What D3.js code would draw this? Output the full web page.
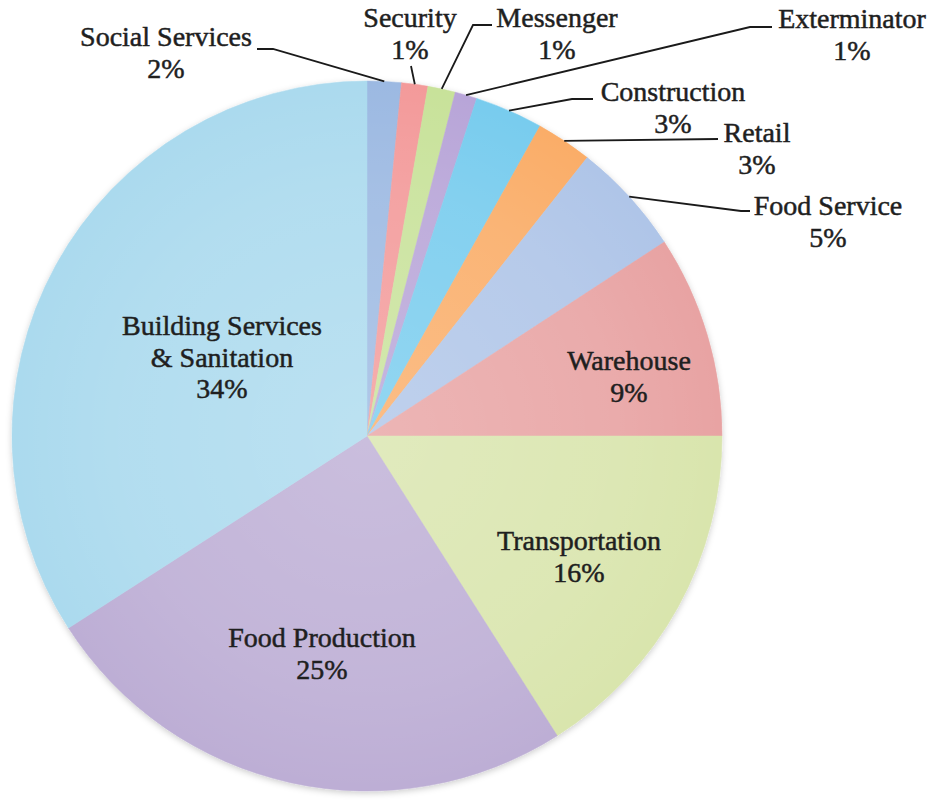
<!DOCTYPE html>
<html><head><meta charset="utf-8">
<script src="https://cdn.jsdelivr.net/npm/d3@7"></script>
<style>body{margin:0;background:#fff} svg{display:block}</style>
</head><body>
<svg id="chart" width="932" height="800"></svg>
<script>
// ---- data ----
const categories = ["Social Services","Security","Messenger","Exterminator","Construction","Retail","Food Service","Warehouse","Transportation","Food Production","Building Services & Sanitation"];
const values = [1.55, 1.2, 1.25, 1.0, 3.1, 2.55, 5.15, 9.2, 16.0, 24.9, 34.1];
const colors = ["#9cb9e2","#f39a9a","#c8e29a","#b8a5d8","#78ccee","#faad68","#afc5e8","#e8a3a3","#d9e5ad","#bdaed5","#abdaee"];
const labelNames = [["Social Services"],["Security"],["Messenger"],["Exterminator"],["Construction"],["Retail"],["Food Service"],["Warehouse"],["Transportation"],["Food Production"],["Building Services","& Sanitation"]];

// ---- layout (label anchors: center x, first baseline y, optional leader elbow/end) ----
const layout = [
  {x:166, y:46, elbow:[273,49], end:[257,49]},
  {x:410, y:27, end:[411,66]},
  {x:557, y:27, elbow:[473,25], end:[492,25]},
  {x:852, y:28, elbow:[750,27], end:[772,27]},
  {x:673, y:101, elbow:[572,99], end:[593,99]},
  {x:757, y:142, end:[718,139]},
  {x:828, y:215, elbow:[741,211], end:[750,211]},
  {x:629, y:370},
  {x:579, y:550},
  {x:322, y:647},
  {x:222, y:335}
];

const W = 932, H = 800;
const cx = 367, cy = 436, R = 355;
const lineH = 31.5;

const svg = d3.select("#chart");
const defs = svg.append("defs");
const f = defs.append("filter").attr("id","shadow").attr("x","-10%").attr("y","-10%").attr("width","120%").attr("height","120%");
f.append("feDropShadow").attr("dx",0).attr("dy",2).attr("stdDeviation",3).attr("flood-color","#000").attr("flood-opacity",0.2);
const rg = defs.append("radialGradient").attr("id","shine").attr("cx","50%").attr("cy","50%").attr("r","50%");
rg.append("stop").attr("offset","0%").attr("stop-color","#fff").attr("stop-opacity",0.2);
rg.append("stop").attr("offset","70%").attr("stop-color","#fff").attr("stop-opacity",0.09);
rg.append("stop").attr("offset","100%").attr("stop-color","#fff").attr("stop-opacity",0);

const data = categories.map((c,i)=>({name:c, value:values[i], color:colors[i], lines:labelNames[i], lay:layout[i]}));
const total = d3.sum(values);

const pie = d3.pie().sort(null).value(d=>d.value).startAngle(0).endAngle(2*Math.PI);
const arc = d3.arc().innerRadius(0).outerRadius(R);

const g = svg.append("g").attr("transform",`translate(${cx},${cy})`);
const slices = g.append("g").attr("filter","url(#shadow)");
const arcs = pie(data);
slices.selectAll("path").data(arcs).join("path")
  .attr("d", arc)
  .attr("fill", d=>d.data.color)
  .attr("stroke", d=>d.data.color)
  .attr("stroke-width", 0.5);
g.append("circle").attr("r",R).attr("fill","url(#shine)");

// leader lines
const lg = svg.append("g");
arcs.forEach(a=>{
  const L = a.data.lay;
  if(!L.end) return;
  const mid = (a.startAngle + a.endAngle)/2;
  const p0 = [cx + R*Math.sin(mid), cy - R*Math.cos(mid)];
  const pts = [p0];
  if(L.elbow) pts.push(L.elbow);
  pts.push(L.end);
  lg.append("path").attr("d", d3.line()(pts))
    .attr("fill","none").attr("stroke","#1a1a1a").attr("stroke-width",1.8);
});

// labels
const tg = svg.append("g")
  .attr("font-family","'Liberation Serif', 'Times New Roman', serif")
  .attr("font-size",28)
  .attr("fill","#1f1f1f")
  .attr("stroke","#1f1f1f").attr("stroke-width",0.5)
  .attr("text-anchor","middle");
arcs.forEach(a=>{
  const L = a.data.lay;
  const pct = Math.round(a.data.value/total*100) + "%";
  const lines = a.data.lines.concat([pct]);
  const t = tg.append("text").attr("x",L.x).attr("y",L.y);
  lines.forEach((s,i)=>{
    t.append("tspan").attr("x",L.x).attr("y",L.y + i*lineH).text(s);
  });
});
</script>
</body></html>
